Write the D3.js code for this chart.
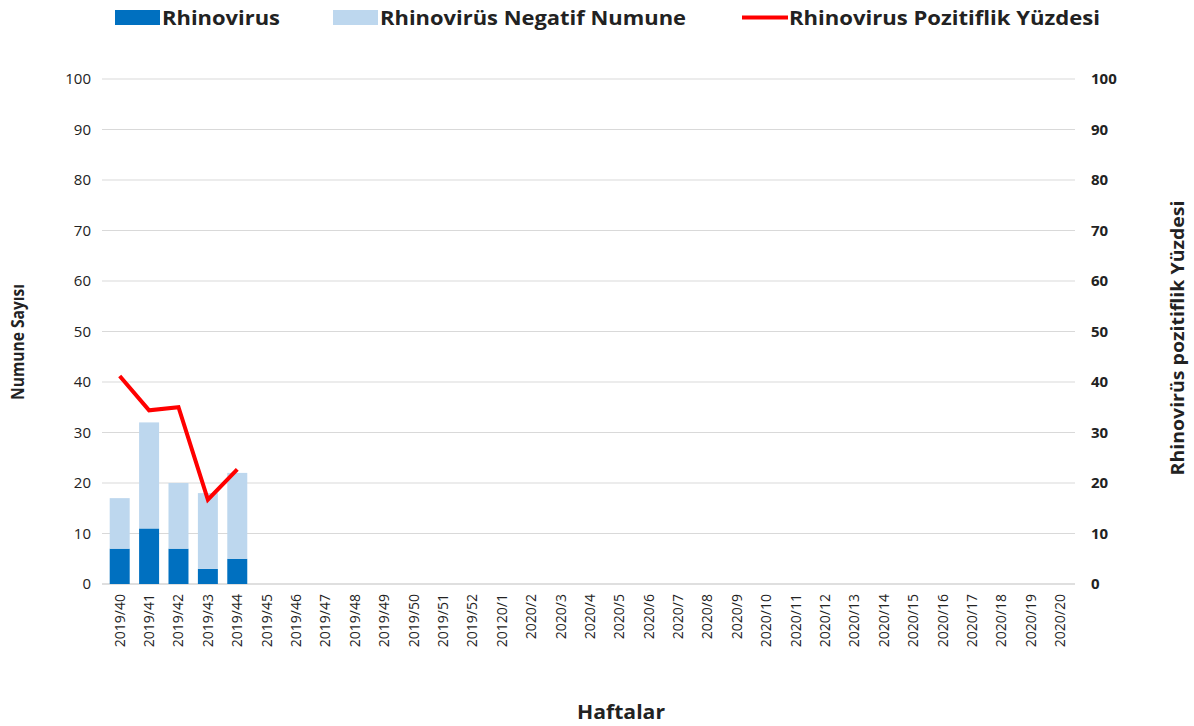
<!DOCTYPE html>
<html lang="tr">
<head>
  <meta charset="UTF-8">
  <title>Rhinovirus</title>
  <script src="https://d3js.org/d3.v7.min.js"></script>
  <style>
    body { margin: 0; background: #fff; }
    text { font-family: "Open Sans", "Noto Sans", sans-serif; fill: #222; }
  </style>
</head>
<body>
  <svg width="1194" height="726"></svg>

  <script>
    // week labels (the "20120/1" typo is in the original)
    const weeks = ["2019/40","2019/41","2019/42","2019/43","2019/44","2019/45","2019/46","2019/47",
      "2019/48","2019/49","2019/50","2019/51","2019/52","20120/1","2020/2","2020/3","2020/4",
      "2020/5","2020/6","2020/7","2020/8","2020/9","2020/10","2020/11","2020/12","2020/13",
      "2020/14","2020/15","2020/16","2020/17","2020/18","2020/19","2020/20"];
    const positive = [7, 11, 7, 3, 5];
    const negative = [10, 21, 13, 15, 17];
    const percent = [41.2, 34.4, 35.0, 16.7, 22.7];
    const yTicks = [0, 10, 20, 30, 40, 50, 60, 70, 80, 90, 100];

    const svg = d3.select("svg");
    const margin = {left: 105, right: 1075, top: 79, bottom: 584};

    const x = d3.scaleBand().domain(weeks).range([margin.left, margin.right]).paddingInner(0.32).paddingOuter(0.16);
    const y = d3.scaleLinear().domain([0, 100]).range([margin.bottom, margin.top]);
    const y2 = d3.scaleLinear().domain([0, 100]).range([margin.bottom, margin.top]);

    // gridlines
    svg.append("g").selectAll("line").data(yTicks).enter().append("line")
        .attr("x1", margin.left - 3).attr("x2", margin.right)
        .attr("y1", d => y(d)).attr("y2", d => y(d))
        .attr("stroke", d => d === 0 ? "#bfbfbf" : "#d9d9d9")
        .attr("stroke-width", 1);

    // left axis
    const leftAxis = svg.append("g").attr("transform", `translate(${margin.left - 10},0)`)
        .call(d3.axisLeft(y).tickValues(yTicks).tickSize(0).tickPadding(4));
    leftAxis.select(".domain").remove();
    leftAxis.selectAll("text").style("font-size", "15px").style("font-family", "'Open Sans', sans-serif").attr("fill", "#222");

    // right axis
    const rightAxis = svg.append("g").attr("transform", `translate(${margin.right + 12},0)`)
        .call(d3.axisRight(y2).tickValues(yTicks).tickSize(0).tickPadding(4));
    rightAxis.select(".domain").remove();
    rightAxis.selectAll("text").style("font-size", "15px").style("font-weight", "bold")
        .style("font-family", "'Open Sans', sans-serif").attr("fill", "#222");

    // x axis
    const xAxis = svg.append("g").attr("transform", `translate(0,${margin.bottom})`)
        .call(d3.axisBottom(x).tickSize(0).tickPadding(0));
    xAxis.select(".domain").remove();
    xAxis.selectAll("text")
        .attr("transform", "rotate(-90)")
        .attr("x", -10).attr("y", 0).attr("dy", "0.35em")
        .style("text-anchor", "end").style("font-size", "14px")
        .style("font-family", "'Open Sans', sans-serif").attr("fill", "#222");

    // stacked bars
    const bars = svg.append("g");
    bars.selectAll("rect.pos").data(positive).enter().append("rect")
        .attr("class", "pos")
        .attr("x", (d, i) => x(weeks[i]))
        .attr("width", x.bandwidth())
        .attr("y", d => y(d))
        .attr("height", d => y(0) - y(d))
        .attr("fill", "#0070c0");
    bars.selectAll("rect.neg").data(negative).enter().append("rect")
        .attr("class", "neg")
        .attr("x", (d, i) => x(weeks[i]))
        .attr("width", x.bandwidth())
        .attr("y", (d, i) => y(d + positive[i]))
        .attr("height", (d, i) => y(positive[i]) - y(d + positive[i]))
        .attr("fill", "#bdd7ee");

    // percent line
    const line = d3.line()
        .x((d, i) => x(weeks[i]) + x.bandwidth() / 2)
        .y(d => y2(d));
    svg.append("path").datum(percent)
        .attr("d", line)
        .attr("fill", "none")
        .attr("stroke", "#ff0000")
        .attr("stroke-width", 4)
        .attr("stroke-linejoin", "miter");

    // axis titles
    svg.append("text").attr("transform", "translate(24,342) rotate(-90)")
        .attr("text-anchor", "middle").style("font-size", "17px").style("font-weight", "bold")
        .attr("textLength", 116).attr("lengthAdjust", "spacingAndGlyphs")
        .text("Numune Sayısı");
    svg.append("text").attr("transform", "translate(1184,338) rotate(-90)")
        .attr("text-anchor", "middle").style("font-size", "18px").style("font-weight", "bold")
        .attr("textLength", 275).attr("lengthAdjust", "spacingAndGlyphs")
        .text("Rhinovirüs pozitiflik Yüzdesi");
    svg.append("text").attr("x", 621).attr("y", 719)
        .attr("text-anchor", "middle").style("font-size", "20px").style("font-weight", "bold")
        .attr("textLength", 88).attr("lengthAdjust", "spacingAndGlyphs")
        .text("Haftalar");

    // legend
    const legend = [
      {label: "Rhinovirus", type: "rect", color: "#0070c0", x: 115, w: 118},
      {label: "Rhinovirüs Negatif Numune", type: "rect", color: "#bdd7ee", x: 333, w: 306},
      {label: "Rhinovirus Pozitiflik Yüzdesi", type: "line", color: "#ff0000", x: 742, w: 311}
    ];
    const lg = svg.append("g").selectAll("g").data(legend).enter().append("g")
        .attr("transform", d => `translate(${d.x},0)`);
    lg.filter(d => d.type === "rect").append("rect")
        .attr("x", 0).attr("y", 10).attr("width", 45).attr("height", 15)
        .attr("fill", d => d.color);
    lg.filter(d => d.type === "line").append("line")
        .attr("x1", 0).attr("x2", 46).attr("y1", 17.5).attr("y2", 17.5)
        .attr("stroke", d => d.color).attr("stroke-width", 4);
    lg.append("text").attr("x", 47).attr("y", 25)
        .style("font-size", "20px").style("font-weight", "bold")
        .attr("textLength", d => d.w).attr("lengthAdjust", "spacingAndGlyphs")
        .text(d => d.label);
  </script>
</body>
</html>
